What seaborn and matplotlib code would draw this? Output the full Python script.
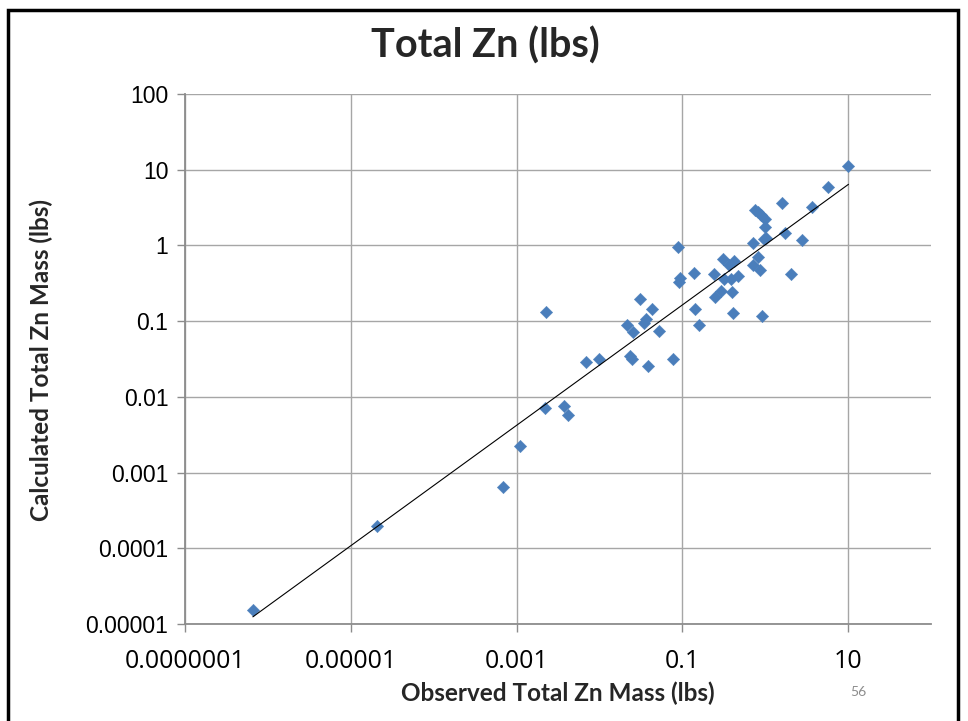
import numpy as np
import pandas as pd
import matplotlib
matplotlib.use("Agg")
import matplotlib.pyplot as plt
from matplotlib.patches import Rectangle
import seaborn as sns

# ---- data ----
observed = [6.59e-7, 2.07e-5, 6.84e-4, 1.10e-3, 2.23e-3, 3.78e-3, 4.20e-3, 2.28e-3,
            6.92e-3, 9.82e-3, 0.0234, 0.0248, 0.0382, 0.0764, 0.0214, 0.0252,
            0.0312, 0.0427, 0.0348, 0.0363, 0.0528, 0.0895, 0.0946, 0.0921,
            0.140, 0.144, 0.161, 0.238, 0.247, 0.291, 0.306, 0.316,
            0.389, 0.393, 0.404, 0.363, 0.424, 0.476, 0.706, 0.703,
            0.807, 0.871, 0.912, 0.759, 0.807, 0.887, 0.990, 0.985,
            0.955, 1.02, 1.59, 1.73, 2.04, 2.75, 3.63, 5.69, 10.1]
calculated = [1.53e-5, 1.96e-4, 6.37e-4, 2.24e-3, 7.18e-3, 7.62e-3, 5.70e-3, 0.133,
              0.0291, 0.0316, 0.0349, 0.0316, 0.0253, 0.0316, 0.0902, 0.0724,
              0.194, 0.143, 0.0935, 0.107, 0.0740, 0.944, 0.368, 0.326,
              0.436, 0.145, 0.0888, 0.417, 0.210, 0.250, 0.671, 0.356,
              0.356, 0.239, 0.127, 0.546, 0.618, 0.398, 1.07, 0.556,
              0.713, 0.473, 0.117, 2.98, 2.76, 2.56, 2.25, 1.77,
              1.22, 1.24, 3.60, 1.47, 0.417, 1.18, 3.19, 5.86, 11.2]

# power trendline y = coef * x ** exponent (as shown in the reference)
trend_coef = 1.02
trend_exponent = 0.795

x_ticks = [1e-7, 1e-5, 1e-3, 1e-1, 10]
x_tick_labels = ["0.0000001", "0.00001", "0.001", "0.1", "10"]
y_ticks = [1e-5, 1e-4, 1e-3, 1e-2, 1e-1, 1, 10, 100]
y_tick_labels = ["0.00001", "0.0001", "0.001", "0.01", "0.1", "1", "10", "100"]

title = "Total Zn (lbs)"
x_label = "Observed Total Zn Mass (lbs)"
y_label = "Calculated Total Zn Mass (lbs)"
slide_number = "56"

df = pd.DataFrame({"observed": observed, "calculated": calculated})

# ---- fonts ----
heading_font = ["Lato", "DejaVu Sans"]
xtick_font = ["Open Sans", "DejaVu Sans"]
arial_like = ["Liberation Sans", "DejaVu Sans"]

sns.set_theme(style="white")
plt.rcParams["font.family"] = arial_like

DPI = 100
W, H = 968, 721
fig = plt.figure(figsize=(W / DPI, H / DPI), dpi=DPI)
fig.patch.set_facecolor("white")

ax = fig.add_axes([185 / W, 1 - 624 / H, (931 - 185) / W, (624 - 94) / H])
ax.set_facecolor("white")

sns.scatterplot(data=df, x="observed", y="calculated", ax=ax, marker="D",
                s=40, color="#4A7EBB", edgecolor="#4A7EBB", linewidth=0.3,
                zorder=3, legend=False)

xt = np.array([df["observed"].min(), df["observed"].max()])
ax.plot(xt, trend_coef * xt ** trend_exponent, color="black", lw=0.8, zorder=4)

ax.set_xscale("log")
ax.set_yscale("log")
ax.set_xlim(1e-7, 100)
ax.set_ylim(1e-5, 100)

ax.set_xticks(x_ticks)
ax.set_xticklabels(x_tick_labels)
ax.set_yticks(y_ticks)
ax.set_yticklabels(y_tick_labels)
ax.xaxis.set_minor_locator(matplotlib.ticker.NullLocator())
ax.yaxis.set_minor_locator(matplotlib.ticker.NullLocator())

ax.grid(True, which="major", color="#A6A6A6", lw=1.0, zorder=0)
ax.set_axisbelow(True)
for side in ["top", "right"]:
    ax.spines[side].set_visible(False)
for side in ["left", "bottom"]:
    ax.spines[side].set_color("#8C8C8C")
    ax.spines[side].set_linewidth(1.3)

ax.tick_params(axis="both", which="major", direction="out", length=6,
               width=1.0, color="#8C8C8C", bottom=True, left=True)
ax.tick_params(axis="y", labelsize=16.5, pad=6, labelcolor="black")
ax.tick_params(axis="x", labelsize=18, pad=12, labelcolor="black")
for lab in ax.get_xticklabels():
    lab.set_family(xtick_font)
for lab in ax.get_yticklabels():
    lab.set_family(arial_like)

ax.set_xlabel("")
ax.set_ylabel("")

fig.text(485 / W, 1 - 46 / H, title, ha="center", va="center",
         fontsize=28.5, fontweight="bold", family=heading_font)
fig.text(558 / W, 1 - 693 / H, x_label, ha="center", va="center",
         fontsize=17.5, fontweight="bold", family=heading_font)
fig.text(41 / W, 1 - 360 / H, y_label, ha="center", va="center", rotation=90,
         fontsize=17.5, fontweight="bold", family=heading_font)
fig.text(858 / W, 1 - 692 / H, slide_number, ha="center", va="center",
         fontsize=10, color="#8C8C8C", family=heading_font)

# slide frame
fig.patches.append(Rectangle((8 / W, -0.05), (958 - 8) / W, 1.05 - 10 / H,
                             transform=fig.transFigure, fill=False,
                             edgecolor="black", lw=2.5, zorder=10))

fig.savefig("out.png", dpi=DPI, facecolor="white")
